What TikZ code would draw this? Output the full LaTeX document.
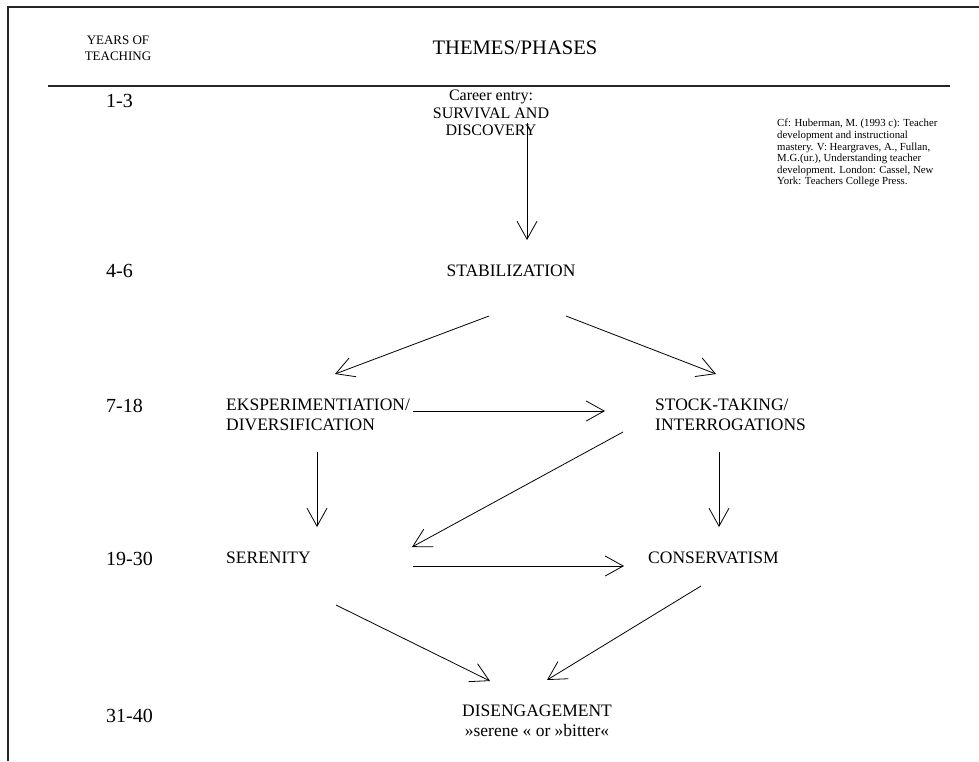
\documentclass[tikz,border=0pt]{standalone}
\usepackage{fontspec}
\setmainfont{Liberation Serif}
\usetikzlibrary{arrows.meta}
\begin{document}
\begin{tikzpicture}[x=1pt,y=-1pt,
  phase/.style={font=\fontsize{17.5}{20}\selectfont, inner sep=0pt},
  yearlbl/.style={font=\fontsize{20}{22}\selectfont, inner sep=0pt, anchor=west},
  frame/.style={line width=1.8pt, draw=black!85},
  conn/.style={line width=0.8pt, -{Straight Barb[length=18pt,width=20pt,line width=0.8pt]}}]
\useasboundingbox (0,0) rectangle (979,761);
\draw[frame] (8,761) -- (8,7) -- (979,7);
\draw[frame] (48,86) -- (950,86);
% header
\node[align=center, inner sep=0pt, font=\fontsize{13}{16}\selectfont] (yh) at (118,48) {YEARS OF\\TEACHING};
\node[inner sep=0pt, font=\fontsize{20.6}{24}\selectfont] (title) at (515,48) {THEMES/PHASES};
% years
\node[yearlbl] (y1) at (106,101) {1-3};
\node[yearlbl] (y2) at (106,271) {4-6};
\node[yearlbl] (y3) at (106,406) {7-18};
\node[yearlbl] (y4) at (106,559) {19-30};
\node[yearlbl] (y5) at (106,716) {31-40};
% phases
\node[align=center, inner sep=0pt, font=\fontsize{16}{17.5}\selectfont] (career) at (491,113) {Career entry:\\SURVIVAL AND\\DISCOVERY};
\node[phase] (stab) at (511,271) {STABILIZATION};
\node[phase, anchor=west, align=left] (eksp) at (226,415) {EKSPERIMENTIATION/\\DIVERSIFICATION};
\node[phase, anchor=west, align=left] (stock) at (655,415) {STOCK-TAKING/\\INTERROGATIONS};
\node[phase, anchor=west] (seren) at (226,558) {SERENITY};
\node[phase, anchor=west] (conserv) at (648,558) {CONSERVATISM};
\node[phase, align=center] (diseng) at (537,721) {DISENGAGEMENT\\»serene « or »bitter«};
% citation
\node[anchor=north west, align=left, inner sep=0pt, font=\fontsize{10.8}{11.6}\selectfont] (cite) at (777,119)
  {Cf: Huberman, M. (1993 c): Teacher\\development and instructional\\mastery. V: Heargraves, A., Fullan,\\M.G.(ur.), Understanding teacher\\development. London: Cassel, New\\York: Teachers College Press.};
% connector end points
\coordinate (c1) at (527,123);  \coordinate (c2) at (527,240);
\coordinate (s1) at (489,316);  \coordinate (s2) at (335,374);
\coordinate (s3) at (566,316);  \coordinate (s4) at (716,374);
\coordinate (e1) at (413,411);  \coordinate (e2) at (605,411);
\coordinate (t1) at (623,432);  \coordinate (t2) at (412,547);
\coordinate (e3) at (317,452);  \coordinate (e4) at (317,527);
\coordinate (t3) at (719,452);  \coordinate (t4) at (719,527);
\coordinate (r1) at (413,566);  \coordinate (r2) at (624,566);
\coordinate (r3) at (336,605);  \coordinate (r4) at (490,681);
\coordinate (k1) at (701,586);  \coordinate (k2) at (547,680);
% connectors
\draw[conn] (c1) -- (c2);
\draw[conn] (s1) -- (s2);
\draw[conn] (s3) -- (s4);
\draw[conn] (e1) -- (e2);
\draw[conn] (t1) -- (t2);
\draw[conn] (e3) -- (e4);
\draw[conn] (t3) -- (t4);
\draw[conn] (r1) -- (r2);
\draw[conn] (r3) -- (r4);
\draw[conn] (k1) -- (k2);
\end{tikzpicture}
\end{document}
